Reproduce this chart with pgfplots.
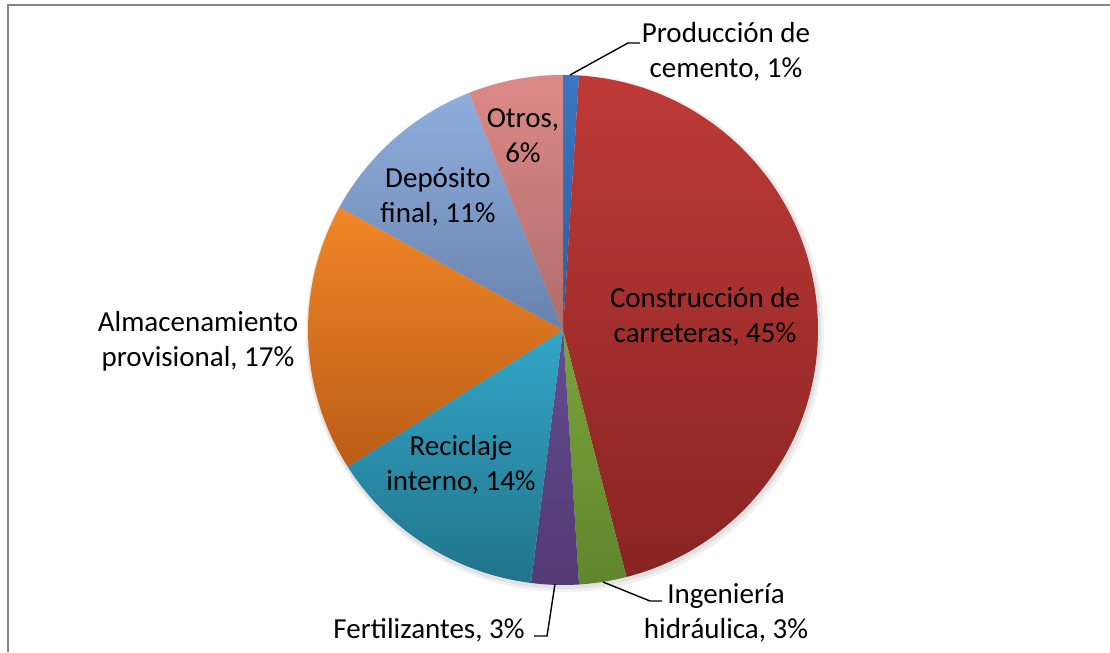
\documentclass[border=0pt]{standalone}
\usepackage{pgfplots}
\pgfplotsset{compat=1.18}
\usepackage{fontspec}
\setmainfont{Carlito}
\definecolor{blueT}{HTML}{3A76C2}\definecolor{blueB}{HTML}{2B5E9C}
\definecolor{redT}{HTML}{BE3A37}\definecolor{redB}{HTML}{882422}
\definecolor{greenT}{HTML}{7AA43C}\definecolor{greenB}{HTML}{5F862C}
\definecolor{purpT}{HTML}{634C91}\definecolor{purpB}{HTML}{533A74}
\definecolor{tealT}{HTML}{33A6C8}\definecolor{tealB}{HTML}{21748B}
\definecolor{orgT}{HTML}{F08727}\definecolor{orgB}{HTML}{BB5C17}
\definecolor{lblT}{HTML}{8FAEDD}\definecolor{lblB}{HTML}{6982AE}
\definecolor{pinkT}{HTML}{DC8A87}\definecolor{pinkB}{HTML}{B06C6B}
\newcommand\lbl{\fontsize{14.5}{17.6}\selectfont}
% start angle, percentage, top colour, bottom colour
\newcommand\slice[4]{\shade[top color=#3,bottom color=#4] (axis cs:563,322) -- ++(#1:127.5pt) arc[start angle=#1, delta angle={-3.6*#2}, radius=127.5pt] -- cycle;}
\begin{document}
\begin{tikzpicture}
\begin{axis}[width=555pt,height=326pt,scale only axis,
  xmin=0,xmax=1110,ymin=0,ymax=652,hide axis,clip=false]
\addplot[draw=none] coordinates {(0,0) (1110,652)};
% soft shadow
\fill[black,opacity=0.06] (axis cs:565,319) circle[radius=129.5pt];
\fill[black,opacity=0.06] (axis cs:564,320) circle[radius=128.5pt];
% slices: Producción 1, Construcción 45, Ingeniería 3, Fertilizantes 3,
% Reciclaje 14, Almacenamiento 17, Depósito 11, Otros 6
\slice{90}{1}{blueT}{blueB}
\slice{86.4}{45}{redT}{redB}
\slice{-75.6}{3}{greenT}{greenB}
\slice{-86.4}{3}{purpT}{purpB}
\slice{-97.2}{14}{tealT}{tealB}
\slice{-147.6}{17}{orgT}{orgB}
\slice{-208.8}{11}{lblT}{lblB}
\slice{-248.4}{6}{pinkT}{pinkB}
% frame
\draw[color=black!47,line width=1pt] (axis cs:8,0) -- (axis cs:8,647) -- (axis cs:1112,647);
% leader lines
\draw[black,line width=0.7pt] (axis cs:570,577) -- (axis cs:628,609) -- (axis cs:640,609);
\draw[black,line width=0.7pt] (axis cs:603,70) -- (axis cs:650,51) -- (axis cs:662,51);
\draw[black,line width=0.7pt] (axis cs:555,68) -- (axis cs:547,16) -- (axis cs:534,16);
% labels
\node[align=center,font=\lbl,inner sep=0pt] at (axis cs:726,600) {Producción de\\cemento, 1\%};
\node[align=center,font=\lbl,inner sep=0pt] at (axis cs:705,335) {Construcción de\\carreteras, 45\%};
\node[align=center,font=\lbl,inner sep=0pt] at (axis cs:726,39) {Ingeniería\\hidráulica, 3\%};
\node[align=center,font=\lbl,inner sep=0pt] at (axis cs:429,22) {Fertilizantes, 3\%};
\node[align=center,font=\lbl,inner sep=0pt] at (axis cs:461,187) {Reciclaje\\interno, 14\%};
\node[align=center,font=\lbl,inner sep=0pt] at (axis cs:198,311) {Almacenamiento\\provisional, 17\%};
\node[align=center,font=\lbl,inner sep=0pt] at (axis cs:438,455) {Depósito\\final, 11\%};
\node[align=center,font=\lbl,inner sep=0pt] at (axis cs:523,516) {Otros,\\6\%};
\end{axis}
\pgfresetboundingbox
\path (current axis.south west) rectangle (current axis.north east);
\end{tikzpicture}
\end{document}
